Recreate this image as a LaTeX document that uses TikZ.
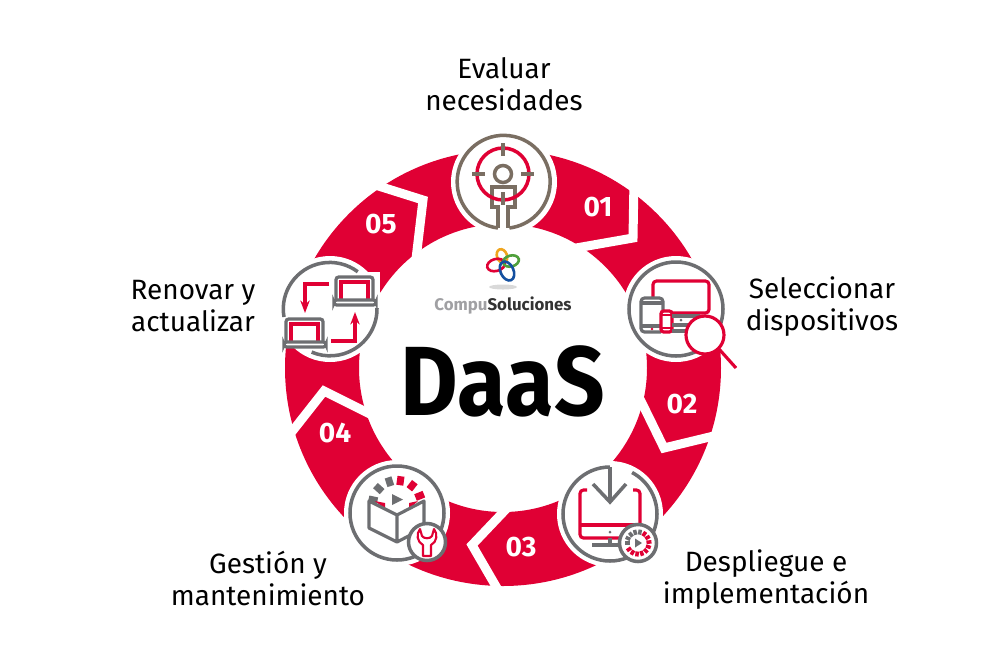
\documentclass[tikz,border=0pt]{standalone}
\usepackage{fontspec}
\setsansfont{Fira Sans}
\usepackage{xcolor}
\usetikzlibrary{arrows.meta,calc}
\definecolor{dsred}{RGB}{224,0,52}
\definecolor{dsgray}{RGB}{109,110,113}
\definecolor{dsbrown}{RGB}{122,110,98}
\definecolor{dslogogray}{RGB}{160,160,163}
\definecolor{dsorange}{RGB}{240,165,30}
\definecolor{dsgreen}{RGB}{80,160,60}
\definecolor{dsblue}{RGB}{20,80,160}
\begin{document}
\begin{tikzpicture}[
  x=0.02cm, y=-0.02cm,
  font=\sffamily,
  steplabel/.style={align=center, font=\sffamily\fontsize{15.9}{18.2}\selectfont, text=black},
  num/.style={font=\sffamily\bfseries\fontsize{16}{18}\selectfont, text=white},
  notch/.style={draw=white, line width=0.18cm, miter limit=10},
  halo/.style={draw=none, fill=white},
  ring/.style={line width=2pt, color=dsgray},
  redline/.style={line width=1.8pt, color=dsred},
  grayline/.style={line width=1.8pt, color=dsgray},
  tick/.style={line width=4pt},
  logoring/.style={line width=1.5pt},
  >={Stealth[length=2.5mm]},
]
\useasboundingbox (0,0) rectangle (1005,654);

% ============ Red ring ============
\fill[dsred, even odd rule] (503,368) circle [radius=218] (503,368) circle [radius=144];

% ============ White chevrons between the segments ============
\draw[notch] (634,180) -- (633,238) -- (576,248);
\draw[notch] (722,434) -- (664,448) -- (638,395);
\draw[notch] (510,505) -- (472,545) -- (501,595);
\draw[notch] (287,438) -- (324,391) -- (376,417);
\draw[notch] (369,183) -- (423,200) -- (416,259);

% ============ Step numbers ============
\node[num] (n1) at (598,207) {01};
\node[num] (n2) at (682,404) {02};
\node[num] (n3) at (521,547) {03};
\node[num] (n4) at (335,433) {04};
\node[num] (n5) at (381,224) {05};

% ============ Icon 1: target ============
\fill[halo] (504,182) circle [radius=53];
\draw[ring, dsbrown] (498,228) arc (97:443:46.5);
\draw[ring, dsbrown, line join=miter] (498,228) -- (498,207) -- (492,207) -- (492,187) -- (515,187) -- (515,207) -- (508,207) -- (508,228);
\draw[ring, dsred] (503,174) circle [radius=26];
\draw[ring, dsbrown] (503,174) circle [radius=8.5];
\draw[ring, dsbrown] (503,143) -- (503,156) (503,192) -- (503,205) (472,174) -- (485,174) (521,174) -- (534,174);

% ============ Icon 2: devices ============
\fill[halo] (676,309) circle [radius=53];
\draw[ring] (676,309) circle [radius=47];
\draw[redline, rounded corners=2pt] (653,297) -- (653,281) -- (709,281) -- (709,313) -- (672,313);
\draw[grayline, rounded corners=2pt] (661,332) -- (641,332) -- (641,298) -- (663,298) -- (663,310);
\draw[grayline] (641,303) -- (663,303) (641,326) -- (660,326);
\draw[redline, rounded corners=1.5pt] (661,311) rectangle (672,332);
\draw[redline, line width=1pt] (661,315) -- (672,315) (661,328) -- (672,328);
\draw[grayline] (672,316) -- (700,316) (672,331) -- (690,331) (672,325) -- (688,325);
\fill[dsgray] (681,320) circle [radius=1.5];
\fill[dsred] (652,329) circle [radius=1.3];
\draw[redline, fill=white] (705,335) circle [radius=19];
\draw[redline] (719,349) -- (736,368);

% ============ Icon 3: download ============
\fill[halo] (610,514) circle [radius=53];
\draw[ring] (610,467) arc (270:-62:47);
\draw[grayline, line width=2pt] (610,467) -- (610,502) (593,484) -- (610,502) -- (626,484);
\draw[redline, rounded corners=2pt] (587,490) -- (580,490) -- (580,538) -- (640,538) -- (640,490) -- (633,490);
\draw[redline] (580,525) -- (640,525);
\fill[dsgray] (610,532) circle [radius=1.5];
\draw[grayline] (610,538) -- (610,545) (592,545) -- (625,545);
\draw[ring, fill=white] (638,543) circle [radius=18.5];
\begin{scope}[shift={(638,543)}]
  \foreach \a in {180,205,230,255,280} {\draw[dsgray, line width=2pt] (\a:8.5) -- (\a:13.5);}
  \foreach \a in {305,330,355,20,45,70,95,120,145} {\draw[dsred, line width=2pt] (\a:8.5) -- (\a:13.5);}
  \fill[dsgray] (-3,-4.5) -- (4,0) -- (-3,4.5) -- cycle;
\end{scope}

% ============ Icon 4: box and wrench ============
\fill[halo] (397,513) circle [radius=53];
\draw[ring] (397,513) circle [radius=47];
\begin{scope}[shift={(397,505)}]
  \foreach \a in {192,222,252} {\draw[dsgray, tick] (\a:20) -- (\a:29);}
  \foreach \a in {278,308,338} {\draw[dsred, tick] (\a:20) -- (\a:29);}
\end{scope}
\fill[white] (369,501) -- (397,515) -- (424,501) -- (424,528) -- (397,542) -- (369,528) -- cycle;
\fill[dsred] (375,501) -- (385,503) -- (385,509) -- cycle (418,501) -- (409,503) -- (409,509) -- cycle;
\draw[grayline, line join=round] (369,501) -- (397,515) -- (424,501) -- (424,528) -- (397,542) -- (369,528) -- cycle (397,515) -- (397,542);
\fill[dsgray] (392,494) -- (403,499.5) -- (392,505) -- cycle;
\draw[ring, fill=white] (427,542) circle [radius=18.5];
\draw[redline, line width=1.2pt, line join=round] (423,556) -- (423,545) .. controls (417,542) and (416,534) .. (420,529) -- (422,536) .. controls (424,539) and (430,539) .. (432,536) -- (434,529) .. controls (438,534) and (437,542) .. (431,545) -- (431,556) -- cycle;

% ============ Icon 5: laptops ============
\fill[halo] (330,309) circle [radius=53];
\fill[white] (330,272) rectangle (380,306);
\draw[ring] (284,317) arc (170:307:46.5);
\draw[ring] (377,308) arc (-1:113:47);
% top right laptop
\draw[grayline, rounded corners=1.5pt, fill=white] (336,300) -- (336,277) -- (373,277) -- (373,300);
\draw[redline] (341,299) -- (341,282) -- (368,282) -- (368,299);
\draw[grayline, rounded corners=1.5pt, fill=white] (334,300) rectangle (376,305);
% bottom left laptop
\draw[grayline, rounded corners=1.5pt, fill=white] (286,342) -- (286,319) -- (323,319) -- (323,342);
\draw[redline] (291,341) -- (291,324) -- (318,324) -- (318,341);
\draw[grayline, rounded corners=1.5pt, fill=white] (284,342) rectangle (326,347);
% red arrows
\draw[redline, ->] (329,284) -- (305,284) -- (305,313);
\draw[redline, ->] (331,341) -- (355,341) -- (355,312);

% ============ Logo ============
\draw[logoring, dsorange, rotate around={20:(502,256)}] (502,256) ellipse [x radius=5, y radius=7];
\draw[logoring, dsred, rotate around={15:(496,265)}] (496,265) ellipse [x radius=9, y radius=6];
\draw[logoring, dsgreen, rotate around={15:(511,261)}] (511,261) ellipse [x radius=8, y radius=5.5];
\draw[logoring, dsblue, rotate around={25:(507,271)}] (507,271) ellipse [x radius=6.5, y radius=10];
\fill[black!15] (503,287) ellipse [x radius=14, y radius=2.5];
\node[font=\sffamily\bfseries\fontsize{9.6}{12}\selectfont] (logo) at (503,306) {\textcolor{dslogogray}{Compu}\textcolor{black!80}{Soluciones}};

% ============ Title ============
\node[font=\sffamily\fontsize{56}{60}\selectfont\bfseries] (title) at (503,381) {\scalebox{0.9}[1]{DaaS}};

% ============ Step labels ============
\node[steplabel] (l1) at (504,84) {Evaluar\\necesidades};
\node[steplabel] (l2) at (822,307) {Seleccionar\\dispositivos};
\node[steplabel] (l3) at (766,580) {Despliegue e\\implementación};
\node[steplabel] (l4) at (268,578) {Gestión y\\mantenimiento};
\node[steplabel] (l5) at (193,306) {Renovar y\\actualizar};

\end{tikzpicture}
\end{document}
